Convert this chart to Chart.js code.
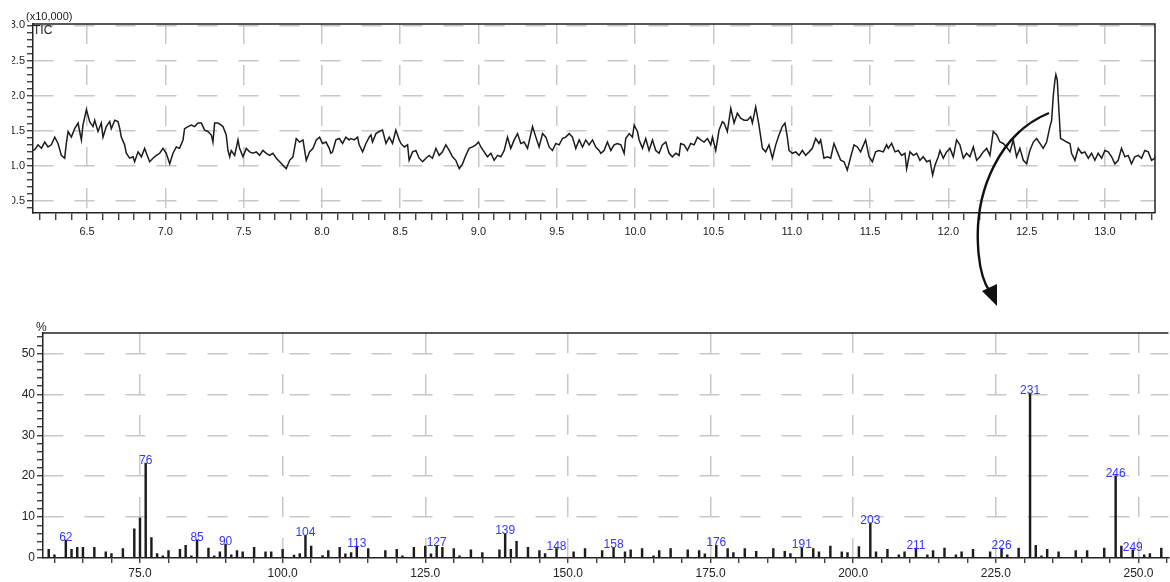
<!DOCTYPE html>
<html>
<head>
<meta charset="utf-8">
<title>TIC and mass spectrum</title>
<script src="https://cdn.jsdelivr.net/npm/chart.js@4.4.0/dist/chart.umd.min.js"></script>
<style>
  html, body { margin: 0; padding: 0; background: #fff; }
  body { width: 1170px; height: 582px; position: relative; overflow: hidden;
         font-family: "Liberation Sans", Arial, sans-serif; color: #222; }
  .box { position: absolute; }
  .txt { position: absolute; white-space: nowrap; line-height: 1; }
  svg { position: absolute; left: 0; top: 0; pointer-events: none; }
</style>
</head>
<body>

<div class="box" style="left:12px; top:0; width:1158px; height:245px;">
  <canvas id="ticChart" width="1158" height="245"></canvas>
</div>
<div class="box" style="left:0; top:300px; width:1170px; height:282px;">
  <canvas id="msChart" width="1170" height="282"></canvas>
</div>

<div class="txt" style="left:26px; top:11px; font-size:11px;">(x10,000)</div>
<div class="txt" style="left:33px; top:24px; font-size:12px;">TIC</div>
<div class="txt" style="left:36px; top:321px; font-size:12px;">%</div>

<svg width="1170" height="582">
  <path d="M1049,113 C1000,133 975,190 978,245 C979,268 983,282 990,292"
        fill="none" stroke="#111" stroke-width="2.4"/>
  <polygon points="997,306 982,291 997,284" fill="#111"/>
</svg>

<script>
// --- TIC chromatogram (x10,000) ---
const ticTime = [
  6.134, 6.166, 6.187, 6.209, 6.230, 6.251, 6.272, 6.294, 6.315, 6.336, 6.357, 6.368, 6.379, 6.400, 6.421, 6.443,
  6.453, 6.464, 6.474, 6.496, 6.517, 6.538, 6.549, 6.570, 6.591, 6.602, 6.623, 6.645, 6.655, 6.677, 6.698, 6.709,
  6.719, 6.740, 6.751, 6.772, 6.794, 6.804, 6.826, 6.847, 6.868, 6.879, 6.900, 6.921, 6.943, 6.964, 6.985, 7.006,
  7.028, 7.049, 7.070, 7.091, 7.113, 7.123, 7.145, 7.166, 7.187, 7.209, 7.230, 7.251, 7.272, 7.294, 7.304, 7.315,
  7.336, 7.357, 7.368, 7.389, 7.400, 7.411, 7.421, 7.443, 7.464, 7.474, 7.496, 7.517, 7.538, 7.560, 7.581, 7.602,
  7.623, 7.645, 7.666, 7.687, 7.709, 7.730, 7.751, 7.772, 7.794, 7.815, 7.836, 7.857, 7.879, 7.900, 7.921, 7.943,
  7.964, 7.985,
  8.004, 8.026, 8.047, 8.057, 8.068, 8.089, 8.111, 8.132, 8.153, 8.174, 8.185, 8.206, 8.228, 8.238, 8.260, 8.281,
  8.302, 8.313, 8.323, 8.345, 8.366, 8.387, 8.409, 8.430, 8.451, 8.472, 8.494, 8.504, 8.526, 8.547, 8.557, 8.579,
  8.600, 8.621, 8.643, 8.664, 8.685, 8.706, 8.728, 8.749, 8.770, 8.791, 8.813, 8.834, 8.855, 8.877, 8.898, 8.919,
  8.940, 8.962, 8.983, 9.000, 9.015, 9.036, 9.057, 9.079, 9.100, 9.121, 9.143, 9.164, 9.185, 9.206, 9.228, 9.249,
  9.270, 9.291, 9.313, 9.345, 9.366, 9.387, 9.409, 9.430, 9.451, 9.472, 9.494, 9.515, 9.536, 9.557, 9.579, 9.600,
  9.621, 9.643, 9.664, 9.685, 9.706, 9.728, 9.749, 9.770,
  9.781, 9.802, 9.823, 9.845, 9.866, 9.887, 9.909, 9.930, 9.940, 9.962, 9.983, 9.994, 10.015, 10.026, 10.047, 10.068,
  10.089, 10.111, 10.132, 10.153, 10.174, 10.196, 10.217, 10.238, 10.260, 10.281, 10.291, 10.313, 10.334, 10.355, 10.377, 10.398,
  10.419, 10.440, 10.462, 10.483, 10.494, 10.515, 10.536, 10.557, 10.568, 10.589, 10.611, 10.632, 10.653, 10.674, 10.696, 10.717,
  10.738, 10.749, 10.770, 10.791, 10.813, 10.834, 10.855, 10.877, 10.898, 10.919, 10.940, 10.957, 10.972, 10.983, 11.004, 11.026,
  11.047, 11.068, 11.089, 11.111, 11.132, 11.153, 11.174, 11.185, 11.206, 11.228, 11.249, 11.270, 11.291, 11.313, 11.334, 11.355,
  11.377, 11.398, 11.419, 11.440, 11.472, 11.494, 11.515, 11.536, 11.557,
  11.585, 11.606, 11.617, 11.638, 11.660, 11.681, 11.702, 11.723, 11.734, 11.755, 11.777, 11.798, 11.819, 11.840, 11.862, 11.883,
  11.900, 11.915, 11.936, 11.947, 11.968, 11.989, 12.011, 12.032, 12.053, 12.074, 12.096, 12.117, 12.138, 12.160, 12.181, 12.202,
  12.223, 12.245, 12.266, 12.287, 12.309, 12.330, 12.351, 12.372, 12.394, 12.415, 12.436, 12.457, 12.479, 12.500, 12.521, 12.543,
  12.564, 12.585, 12.606, 12.628, 12.649, 12.660, 12.670, 12.681, 12.687, 12.696, 12.706, 12.717, 12.734, 12.755, 12.777, 12.787,
  12.809, 12.830, 12.851, 12.872, 12.894, 12.915, 12.936, 12.957, 12.979, 13.000, 13.021, 13.043, 13.064, 13.085, 13.106, 13.128,
  13.149, 13.170, 13.191, 13.213, 13.234, 13.255, 13.277, 13.298, 13.319, 13.330
];
const ticIntensity = [
  1.20, 1.23, 1.30, 1.25, 1.34, 1.27, 1.30, 1.41, 1.32, 1.15, 1.11, 1.32, 1.49, 1.41, 1.53, 1.61,
  1.49, 1.37, 1.58, 1.80, 1.63, 1.56, 1.65, 1.49, 1.61, 1.41, 1.56, 1.63, 1.53, 1.65, 1.63, 1.53,
  1.41, 1.30, 1.18, 1.11, 1.13, 1.06, 1.20, 1.13, 1.25, 1.18, 1.06, 1.11, 1.15, 1.18, 1.25, 1.18,
  1.03, 1.18, 1.27, 1.25, 1.37, 1.53, 1.56, 1.58, 1.56, 1.61, 1.61, 1.51, 1.49, 1.44, 1.34, 1.61,
  1.61, 1.58, 1.56, 1.44, 1.22, 1.13, 1.22, 1.15, 1.37, 1.25, 1.13, 1.25, 1.20, 1.18, 1.20, 1.15,
  1.22, 1.18, 1.15, 1.18, 1.11, 1.06, 1.01, 0.96, 1.08, 1.13, 1.39, 1.34, 1.37, 1.08, 1.20, 1.25,
  1.37, 1.41,
  1.32, 1.34, 1.25, 1.18, 1.20, 1.37, 1.39, 1.32, 1.41, 1.37, 1.39, 1.37, 1.41, 1.30, 1.20, 1.32,
  1.41, 1.44, 1.34, 1.46, 1.49, 1.51, 1.32, 1.41, 1.32, 1.51, 1.37, 1.32, 1.27, 1.30, 1.08, 1.20,
  1.22, 1.11, 1.06, 1.11, 1.15, 1.11, 1.25, 1.15, 1.20, 1.30, 1.22, 1.13, 1.08, 0.96, 1.03, 1.15,
  1.25, 1.27, 1.30, 1.34, 1.27, 1.20, 1.13, 1.18, 1.08, 1.15, 1.13, 1.22, 1.41, 1.25, 1.37, 1.46,
  1.32, 1.34, 1.25, 1.56, 1.41, 1.27, 1.46, 1.41, 1.27, 1.22, 1.32, 1.30, 1.39, 1.41, 1.46, 1.41,
  1.25, 1.37, 1.27, 1.37, 1.30, 1.37, 1.27, 1.22,
  1.18, 1.22, 1.34, 1.22, 1.30, 1.32, 1.30, 1.18, 1.39, 1.46, 1.41, 1.58, 1.49, 1.37, 1.25, 1.39,
  1.22, 1.37, 1.22, 1.18, 1.30, 1.34, 1.18, 1.13, 1.18, 1.15, 1.32, 1.30, 1.22, 1.32, 1.30, 1.41,
  1.37, 1.34, 1.39, 1.30, 1.41, 1.22, 1.51, 1.63, 1.61, 1.49, 1.82, 1.61, 1.75, 1.68, 1.65, 1.65,
  1.70, 1.61, 1.84, 1.58, 1.25, 1.20, 1.30, 1.11, 1.30, 1.44, 1.56, 1.61, 1.41, 1.22, 1.18, 1.20,
  1.15, 1.22, 1.15, 1.20, 1.25, 1.39, 1.32, 1.37, 1.11, 1.13, 1.11, 1.32, 1.20, 1.08, 1.06, 0.94,
  1.13, 1.30, 1.27, 1.20, 1.37, 1.13, 1.06, 1.20, 1.22,
  1.20, 1.30, 1.25, 1.32, 1.20, 1.22, 1.15, 1.18, 0.96, 1.20, 1.15, 1.18, 1.08, 1.13, 1.06, 1.08,
  0.87, 1.01, 1.13, 1.22, 1.11, 1.20, 1.25, 1.13, 1.37, 1.30, 1.11, 1.18, 1.13, 1.27, 1.08, 1.13,
  1.20, 1.25, 1.15, 1.49, 1.44, 1.34, 1.32, 1.27, 1.20, 1.37, 1.13, 1.25, 1.08, 1.03, 1.22, 1.34,
  1.39, 1.32, 1.25, 1.34, 1.56, 1.65, 1.99, 2.22, 2.30, 2.22, 1.80, 1.39, 1.37, 1.34, 1.32, 1.18,
  1.08, 1.25, 1.18, 1.20, 1.11, 1.18, 1.08, 1.18, 1.11, 1.22, 1.20, 1.13, 1.03, 1.08, 1.25, 1.13,
  1.15, 1.03, 1.13, 1.15, 1.11, 1.22, 1.20, 1.08, 1.11, 1.22
];

// --- mass spectrum at the marked retention time ---
const msMass = [
  59, 60, 62, 63, 64, 65, 67, 69, 70, 72, 74, 75, 76, 77, 78, 79, 80, 82, 83, 84, 85, 87, 88, 89, 90,
  91, 92, 93, 95, 97, 98, 100, 102, 103, 104, 105, 107, 108, 110, 111, 112, 113, 115, 118, 120, 121,
  123, 125, 126, 127, 128, 130, 131, 133, 135, 138, 139, 140, 141, 143, 145, 146, 148, 151, 153, 156,
  158, 160, 161, 163, 165, 166, 168, 171, 173, 174, 176, 178, 179, 181, 183, 186, 188, 189, 191, 193,
  194, 196, 198, 199, 201, 203, 204, 206, 208, 209, 211, 213, 214, 216, 218, 219, 221, 224, 226, 227,
  229, 231, 232, 233, 234, 236, 239, 241, 244, 246, 247, 249, 251, 252, 254
];
const msIntensity = [
  2.1, 0.8, 4.4, 2.1, 2.6, 2.6, 2.6, 1.5, 1.1, 2.3, 7.1, 9.8, 23.2, 5.0, 1.1, 0.5, 1.8, 2.1, 3.1, 0.5, 4.4, 2.4, 0.5, 1.5, 3.4,
  0.8, 1.8, 1.5, 2.6, 1.5, 1.5, 2.1, 0.7, 1.1, 5.6, 2.9, 0.6, 1.8, 2.6, 1.0, 1.3, 2.9, 2.3, 1.8, 2.1, 0.5,
  2.6, 2.9, 1.0, 3.1, 2.6, 2.3, 0.5, 2.0, 1.3, 2.0, 6.0, 2.1, 4.1, 2.6, 1.8, 1.1, 2.3, 1.5, 2.3, 1.8,
  2.6, 1.5, 2.0, 2.3, 0.5, 1.8, 2.3, 2.0, 1.8, 1.0, 3.1, 2.3, 1.3, 2.3, 1.6, 2.3, 1.6, 1.1, 2.6, 2.3,
  1.5, 2.9, 1.5, 1.3, 2.8, 8.6, 1.5, 2.1, 0.8, 1.5, 2.4, 0.8, 1.8, 2.4, 0.8, 1.5, 2.1, 1.5, 2.4, 0.8,
  2.4, 40.3, 3.1, 0.5, 2.1, 1.5, 1.8, 1.8, 2.4, 20.0, 2.9, 2.0, 0.8, 1.1, 2.4
];
const msLabelled = [62, 76, 85, 90, 104, 113, 127, 139, 148, 158, 176, 191, 203, 211, 226, 231, 246, 249];

const AXIS = '#222';
const GRID = '#c8c8c8';

function isMultiple(v, step) {
    const r = v / step;
    return Math.abs(r - Math.round(r)) < 1e-6;
}

// draws the top (and optionally right) edge of the plot box
function framePlugin(withRight) {
    return {
        id: 'frame',
        afterDraw(chart) {
            const { ctx, chartArea: a } = chart;
            ctx.save();
            ctx.strokeStyle = AXIS;
            ctx.lineWidth = 1.5;
            ctx.beginPath();
            ctx.moveTo(a.left, a.top);
            ctx.lineTo(a.right, a.top);
            if (withRight) ctx.lineTo(a.right, a.bottom);
            ctx.stroke();
            ctx.restore();
        }
    };
}

const peakLabels = {
    id: 'peakLabels',
    afterDatasetsDraw(chart) {
        const { ctx } = chart;
        const meta = chart.getDatasetMeta(0);
        ctx.save();
        ctx.font = '12px "Liberation Sans", Arial, sans-serif';
        ctx.fillStyle = '#3535ff';
        ctx.textAlign = 'center';
        ctx.textBaseline = 'alphabetic';
        msLabelled.forEach(m => {
            const i = msMass.indexOf(m);
            const el = meta.data[i];
            if (el) ctx.fillText(String(m), el.x, el.y + 1);
        });
        ctx.restore();
    }
};

// TIC
new Chart(document.getElementById('ticChart'), {
    type: 'line',
    data: {
        datasets: [{
            data: ticTime.map((t, i) => ({ x: t, y: ticIntensity[i] })),
            borderColor: '#1c1c1c',
            borderWidth: 1.5,
            pointRadius: 0,
            tension: 0,
            fill: false,
        }]
    },
    options: {
        responsive: false,
        animation: false,
        layout: { padding: { top: 24, right: 15, left: 0, bottom: 0 } },
        plugins: { legend: { display: false }, tooltip: { enabled: false } },
        scales: {
            x: {
                type: 'linear',
                min: 6.155,
                max: 13.32,
                afterFit: s => { s.height = 32; },
                ticks: {
                    stepSize: 0.1,
                    includeBounds: false,
                    autoSkip: false,
                    maxRotation: 0,
                    padding: 5,
                    color: AXIS,
                    font: { size: 11, family: '"Liberation Sans", Arial, sans-serif' },
                    callback: v => isMultiple(v, 0.5) ? v.toFixed(1) : ''
                },
                grid: {
                    color: c => isMultiple(c.tick.value, 0.5) ? GRID : 'rgba(0,0,0,0)',
                    lineWidth: 1.5,
                    tickColor: AXIS,
                    tickWidth: 1.2,
                    tickLength: 7,
                },
                border: { color: AXIS, width: 1.5, dash: [20, 21] }
            },
            y: {
                min: 0.33,
                max: 3.02,
                afterFit: s => { s.width = 21; },
                ticks: {
                    stepSize: 0.1,
                    includeBounds: false,
                    autoSkip: false,
                    padding: 2,
                    color: AXIS,
                    font: { size: 11, family: '"Liberation Sans", Arial, sans-serif' },
                    callback: v => isMultiple(v, 0.5) ? v.toFixed(1) : ''
                },
                grid: {
                    color: c => isMultiple(c.tick.value, 0.5) ? GRID : 'rgba(0,0,0,0)',
                    lineWidth: 1.5,
                    tickColor: AXIS,
                    tickWidth: 1.2,
                    tickLength: 6,
                },
                border: { color: AXIS, width: 1.5, dash: [20, 21] }
            }
        }
    },
    plugins: [framePlugin(true)]
});

// mass spectrum
new Chart(document.getElementById('msChart'), {
    type: 'bar',
    data: {
        datasets: [{
            data: msMass.map((m, i) => ({ x: m, y: msIntensity[i] })),
            backgroundColor: '#1c1c1c',
            borderWidth: 0,
            barThickness: 1.8,
        }]
    },
    options: {
        responsive: false,
        animation: false,
        layout: { padding: { top: 33, right: 0, left: 0, bottom: 0 } },
        plugins: { legend: { display: false }, tooltip: { enabled: false } },
        scales: {
            x: {
                type: 'linear',
                offset: false,
                min: 58,
                max: 255.25,
                afterFit: s => { s.height = 24; },
                ticks: {
                    stepSize: 5,
                    includeBounds: false,
                    autoSkip: false,
                    maxRotation: 0,
                    padding: 3,
                    color: AXIS,
                    font: { size: 12, family: '"Liberation Sans", Arial, sans-serif' },
                    callback: v => isMultiple(v, 25) ? v.toFixed(1) : ''
                },
                grid: {
                    offset: false,
                    color: c => isMultiple(c.tick.value, 25) ? GRID : 'rgba(0,0,0,0)',
                    lineWidth: 1.5,
                    tickColor: AXIS,
                    tickWidth: 1.2,
                    tickLength: 5,
                },
                border: { color: AXIS, width: 1.5, dash: [20, 21] }
            },
            y: {
                min: 0,
                max: 55,
                afterFit: s => { s.width = 43; },
                ticks: {
                    stepSize: 2,
                    includeBounds: false,
                    autoSkip: false,
                    padding: 2,
                    color: AXIS,
                    font: { size: 12, family: '"Liberation Sans", Arial, sans-serif' },
                    callback: v => isMultiple(v, 10) ? String(v) : ''
                },
                grid: {
                    color: c => (c.tick.value > 0 && isMultiple(c.tick.value, 10)) ? GRID : 'rgba(0,0,0,0)',
                    lineWidth: 1.5,
                    tickColor: AXIS,
                    tickWidth: 1.2,
                    tickLength: 6,
                },
                border: { color: AXIS, width: 1.5, dash: [20, 21] }
            }
        }
    },
    plugins: [framePlugin(false), peakLabels]
});
</script>
</body>
</html>
